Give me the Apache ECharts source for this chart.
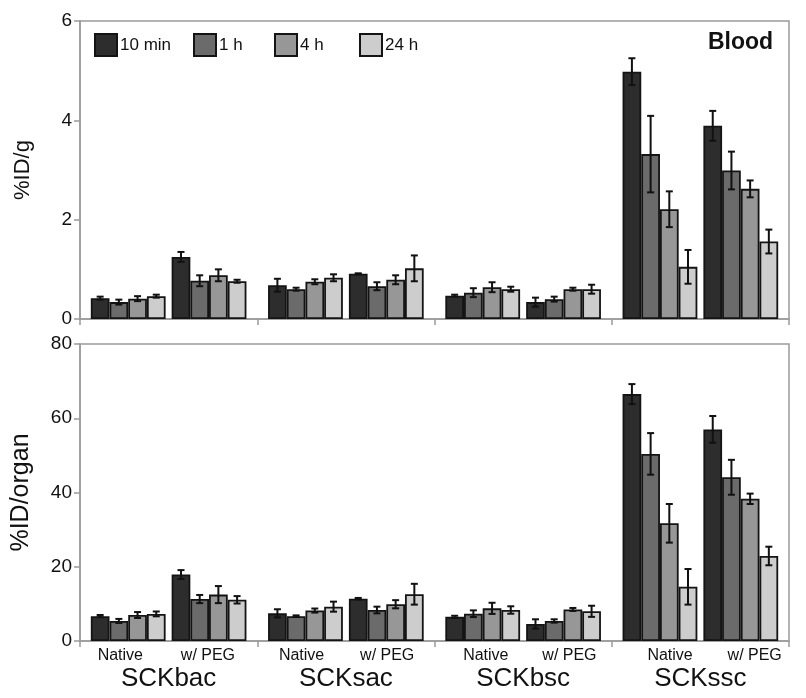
<!DOCTYPE html>
<html>
<head>
<meta charset="utf-8">
<script src="https://cdn.jsdelivr.net/npm/echarts@6/dist/echarts.min.js"></script>
<style>html,body{margin:0;padding:0;background:#fff}#c{width:806px;height:698px}</style>
</head>
<body>
<div id="c"></div>
<script>
// ---- data (rows = time points, columns = constructs) ----
const constructs = ['SCKbac', 'SCKsac', 'SCKbsc', 'SCKssc'];
const subgroups = ['Native', 'w/ PEG'];
const times = ['10 min', '1 h', '4 h', '24 h'];
const bloodTicks = [0, 2, 4, 6];
const organTicks = [0, 20, 40, 60, 80];

const bloodNativeMean = [
  [0.42, 0.68, 0.47, 4.98],
  [0.34, 0.60, 0.53, 3.32],
  [0.41, 0.75, 0.64, 2.21],
  [0.46, 0.83, 0.60, 1.05]
];
const bloodNativeErr = [
  [0.03, 0.13, 0.02, 0.27],
  [0.05, 0.03, 0.09, 0.77],
  [0.05, 0.05, 0.10, 0.36],
  [0.03, 0.07, 0.05, 0.34]
];
const bloodPegMean = [
  [1.25, 0.91, 0.34, 3.89],
  [0.77, 0.66, 0.40, 2.99],
  [0.88, 0.79, 0.60, 2.62],
  [0.76, 1.02, 0.60, 1.56]
];
const bloodPegErr = [
  [0.10, 0.01, 0.09, 0.30],
  [0.11, 0.08, 0.05, 0.38],
  [0.12, 0.09, 0.03, 0.17],
  [0.03, 0.26, 0.09, 0.24]
];
const organNativeMean = [
  [6.7, 7.45, 6.5, 66.5],
  [5.4, 6.7, 7.35, 50.4],
  [7.0, 8.2, 8.8, 31.7],
  [7.3, 9.25, 8.35, 14.6]
];
const organNativeErr = [
  [0.3, 1.1, 0.3, 2.7],
  [0.55, 0.2, 0.9, 5.6],
  [0.8, 0.55, 1.5, 5.2],
  [0.65, 1.35, 1.0, 4.8]
];
const organPegMean = [
  [17.9, 11.4, 4.6, 57.0],
  [11.3, 8.35, 5.4, 44.1],
  [12.5, 9.9, 8.5, 38.3],
  [11.1, 12.6, 8.0, 22.9]
];
const organPegErr = [
  [1.2, 0.2, 1.25, 3.6],
  [1.1, 0.9, 0.45, 4.7],
  [2.3, 1.1, 0.4, 1.4],
  [1.0, 2.8, 1.5, 2.5]
];

// ---- styling ----
const FONT = '"Liberation Sans", Arial, sans-serif';
const barColors = ['#2d2d2d', '#6b6b6b', '#979797', '#cdcdcd'];
const AXIS_GREY = '#9a9a9a';
const BWF = 0.1055;   // bar width as fraction of category band
const SWF = 0.034;    // gap between Native and PEG groups
// horizontal nudges for the sub-group labels (left pad, right pad), as in the original
const subLabelPads = [[0, 8], [0, 10], [0, 0], [0, 6], [14, 0], [4, 0], [28, 0], [20, 0]];

const chart = echarts.init(document.getElementById('c'), null, {renderer: 'canvas'});

function panelSeries(p, xIdx, nativeMean, pegMean, nativeErr, pegErr) {
  const out = [];
  const mk = (t, arr) => ({
    type: 'bar', name: times[t], xAxisIndex: xIdx, yAxisIndex: p,
    data: arr[t], barWidth: (BWF * 100) + '%', barGap: '0%', silent: true,
    itemStyle: {color: barColors[t], borderColor: '#141414', borderWidth: 1.8}
  });
  for (let t = 0; t < 4; t++) out.push(mk(t, nativeMean));
  out.push({type: 'bar', name: 'gap', xAxisIndex: xIdx, yAxisIndex: p, data: ['-', '-', '-', '-'],
            barWidth: (SWF * 100) + '%', barGap: '0%', silent: true});
  for (let t = 0; t < 4; t++) out.push(mk(t, pegMean));
  const errData = [];
  [nativeErr, pegErr].forEach((errs, g) => {
    const means = g === 0 ? nativeMean : pegMean;
    for (let t = 0; t < 4; t++) for (let c = 0; c < 4; c++) errData.push([c, means[t][c], errs[t][c], t, g]);
  });
  out.push({
    type: 'custom', xAxisIndex: xIdx, yAxisIndex: p, z: 5, silent: true, data: errData,
    renderItem: function (params, api) {
      const c = api.value(0), v = api.value(1), e = api.value(2), t = api.value(3), g = api.value(4);
      const w = api.size([1, 0])[0];
      const bw = w * BWF, sw = w * SWF, total = 8 * bw + sw;
      const cx = api.coord([c, v])[0];
      const x = cx - total / 2 + g * (4 * bw + sw) + (t + 0.5) * bw;
      const yT = api.coord([c, v + e])[1], yB = api.coord([c, v - e])[1];
      const cap = 3.5;
      const st = {stroke: '#111', lineWidth: 2};
      return {type: 'group', children: [
        {type: 'line', shape: {x1: x, y1: yT, x2: x, y2: yB}, style: st},
        {type: 'line', shape: {x1: x - cap, y1: yT, x2: x + cap, y2: yT}, style: st},
        {type: 'line', shape: {x1: x - cap, y1: yB, x2: x + cap, y2: yB}, style: st}
      ]};
    }
  });
  return out;
}

const legendLefts = [94, 193, 274, 359];
const subLabels = [];
constructs.forEach(() => subgroups.forEach(s => subLabels.push(s)));
const subLabelData = subLabels.map((s, i) => ({
  value: s, textStyle: {padding: [0, subLabelPads[i][1], 0, subLabelPads[i][0]]}
}));

const yAxisCommon = {
  type: 'value', nameLocation: 'middle', splitLine: {show: false},
  axisLine: {show: true, lineStyle: {color: AXIS_GREY, width: 1.5}},
  axisTick: {show: true, length: 6, lineStyle: {color: AXIS_GREY, width: 1.5}},
  axisLabel: {fontSize: 19, color: '#111', fontFamily: FONT, margin: 8},
  nameTextStyle: {color: '#111', fontFamily: FONT}
};
const xCat = {
  type: 'category', data: constructs,
  axisLine: {lineStyle: {color: AXIS_GREY, width: 1.5}},
  axisTick: {show: true, length: 6, lineStyle: {color: AXIS_GREY, width: 1.5}}
};

const option = {
  backgroundColor: '#fff',
  animation: false,
  textStyle: {fontFamily: FONT},
  title: {text: 'Blood', left: 703, top: 26,
          textStyle: {fontSize: 23, fontWeight: 'bold', color: '#111', fontFamily: FONT}},
  legend: times.map((t, i) => ({
    data: [t], left: legendLefts[i], top: 33, padding: 0, icon: 'rect',
    itemWidth: 22, itemHeight: 22, selectedMode: false,
    textStyle: {fontSize: 17, color: '#111', fontFamily: FONT, padding: [0, 0, 0, -2]}
  })),
  grid: [
    {left: 80, right: 17, top: 21, height: 298, show: true, borderColor: AXIS_GREY, borderWidth: 1.5},
    {left: 80, right: 17, top: 344, height: 297, show: true, borderColor: AXIS_GREY, borderWidth: 1.5}
  ],
  xAxis: [
    Object.assign({}, xCat, {gridIndex: 0, axisLabel: {show: false}}),
    Object.assign({}, xCat, {gridIndex: 1,
      axisLabel: {show: true, interval: 0, fontSize: 26, color: '#111', fontFamily: FONT, margin: 25}}),
    {type: 'category', gridIndex: 1, data: subLabelData, position: 'bottom',
     axisLine: {show: false}, axisTick: {show: false},
     axisLabel: {show: true, interval: 0, fontSize: 16, color: '#111', fontFamily: FONT, margin: 7}}
  ],
  yAxis: [
    Object.assign({}, yAxisCommon, {gridIndex: 0, min: bloodTicks[0], max: bloodTicks[bloodTicks.length - 1],
      interval: bloodTicks[1] - bloodTicks[0], name: '%ID/g', nameGap: 46,
      nameTextStyle: {fontSize: 22, color: '#111', fontFamily: FONT}}),
    Object.assign({}, yAxisCommon, {gridIndex: 1, min: organTicks[0], max: organTicks[organTicks.length - 1],
      interval: organTicks[1] - organTicks[0], name: '%ID/organ', nameGap: 46,
      nameTextStyle: {fontSize: 25, color: '#111', fontFamily: FONT}})
  ],
  series: [].concat(
    panelSeries(0, 0, bloodNativeMean, bloodPegMean, bloodNativeErr, bloodPegErr),
    panelSeries(1, 1, organNativeMean, organPegMean, organNativeErr, organPegErr)
  )
};
chart.setOption(option);
</script>
</body>
</html>
